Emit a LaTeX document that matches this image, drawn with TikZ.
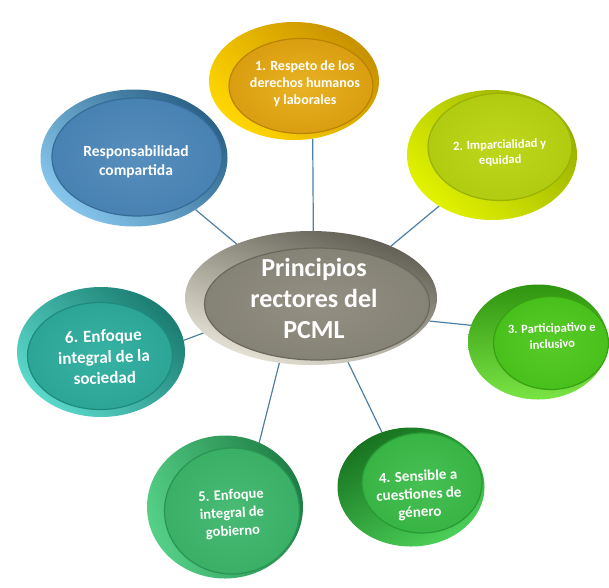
\documentclass[tikz,border=0pt]{standalone}
\usepackage{fontspec}
\setmainfont{Carlito}
\usetikzlibrary{shapes.geometric}
\pgfdeclarelayer{back}
\pgfsetlayers{back,main}

% connector colour
\definecolor{linkc}{HTML}{4F7FA6}
% button colours: rim light, rim dark, face inner, face outer, face edge
\definecolor{aRl}{HTML}{FFD600}\definecolor{aRd}{HTML}{C89200}
\definecolor{aFi}{HTML}{E8B223}\definecolor{aFo}{HTML}{DA9E10}\definecolor{aFe}{HTML}{B98300}
\definecolor{bRl}{HTML}{E2F200}\definecolor{bRd}{HTML}{97B000}
\definecolor{bFi}{HTML}{BED71C}\definecolor{bFo}{HTML}{B1CC10}\definecolor{bFe}{HTML}{98B205}
\definecolor{cRl}{HTML}{7AE444}\definecolor{cRd}{HTML}{2F9410}
\definecolor{cFi}{HTML}{58CC28}\definecolor{cFo}{HTML}{48C01C}\definecolor{cFe}{HTML}{38A012}
\definecolor{dRl}{HTML}{4CD058}\definecolor{dRd}{HTML}{17721F}
\definecolor{dFi}{HTML}{46C052}\definecolor{dFo}{HTML}{38B445}\definecolor{dFe}{HTML}{289A34}
\definecolor{eRl}{HTML}{55D088}\definecolor{eRd}{HTML}{1F7E45}
\definecolor{eFi}{HTML}{48BB74}\definecolor{eFo}{HTML}{3AAF66}\definecolor{eFe}{HTML}{2A9454}
\definecolor{fRl}{HTML}{5AD8CA}\definecolor{fRd}{HTML}{1C7D72}
\definecolor{fFi}{HTML}{38B2A4}\definecolor{fFo}{HTML}{2CA597}\definecolor{fFe}{HTML}{1E8A7E}
\definecolor{gRl}{HTML}{86C6EC}\definecolor{gRd}{HTML}{2C6288}
\definecolor{gFi}{HTML}{568FBE}\definecolor{gFo}{HTML}{4882B2}\definecolor{gFe}{HTML}{356C98}
\definecolor{hRl}{HTML}{E8E5D8}\definecolor{hRd}{HTML}{5E5B50}
\definecolor{hFi}{HTML}{939083}\definecolor{hFo}{HTML}{858276}\definecolor{hFe}{HTML}{6A675C}

\begin{document}
\begin{tikzpicture}[x=1pt,y=-1pt,
  rim/.style n args={3}{ellipse, inner sep=0pt, outer sep=0pt,
    top color=#1, bottom color=#2, shading angle=#3},
  face/.style n args={3}{ellipse, inner sep=0pt, outer sep=0pt,
    inner color=#1, outer color=#2, draw=#3, line width=1.2pt},
  lbl/.style={text=white, align=center, inner sep=0pt},
  link/.style={draw=linkc, line width=1.2pt}]
\useasboundingbox (0,0) rectangle (609,587);

% centre button
\node[rim={hRl}{hRd}{160}, minimum width=252pt, minimum height=134pt] (c) at (311,298) {};
\node[face={hFi}{hFo}{hFe}, minimum width=225pt, minimum height=112pt] (cf) at (317,304) {};
\node[lbl, font=\bfseries\fontsize{26}{31}\selectfont] (ct) at (314,298)
  {Principios\\rectores del\\PCML};

% 1
\node[rim={aRl}{aRd}{135}, minimum width=170pt, minimum height=118pt] (n1) at (294,81) {};
\node[face={aFi}{aFo}{aFe}, minimum width=144pt, minimum height=95pt] (n1f) at (301,86) {};
\node[lbl, font=\bfseries\fontsize{14}{17}\selectfont] (t1) at (305,84)
  {1. Respeto de los\\derechos humanos\\y laborales};

% 2
\node[rim={bRl}{bRd}{135}, minimum width=170pt, minimum height=130pt] (n2) at (492,155) {};
\node[face={bFi}{bFo}{bFe}, minimum width=144pt, minimum height=107pt] (n2f) at (500,147) {};
\node[lbl, rotate=2, font=\bfseries\fontsize{12.5}{15.5}\selectfont] (t2) at (500,153)
  {2. Imparcialidad y\\equidad};

% 3
\node[rim={cRl}{cRd}{180}, minimum width=140pt, minimum height=115pt] (n3) at (538,342) {};
\node[face={cFi}{cFo}{cFe}, minimum width=115pt, minimum height=93pt] (n3f) at (551,343) {};
\node[lbl, rotate=2, font=\bfseries\fontsize{12.5}{16}\selectfont] (t3) at (552,336)
  {3. Participativo e\\inclusivo};

% 4
\node[rim={dRl}{dRd}{210}, minimum width=147pt, minimum height=119pt] (n4) at (411,487) {};
\node[face={dFi}{dFo}{dFe}, minimum width=120pt, minimum height=100pt] (n4f) at (422,483) {};
\node[lbl, rotate=3, font=\bfseries\fontsize{15}{18}\selectfont] (t4) at (419,495)
  {4. Sensible a\\cuestiones de\\género};

% 5
\node[rim={eRl}{eRd}{110}, minimum width=156pt, minimum height=143pt] (n5) at (225,507) {};
\node[face={eFi}{eFo}{eFe}, minimum width=135pt, minimum height=126pt] (n5f) at (232,511) {};
\node[lbl, rotate=3, font=\bfseries\fontsize{14.5}{18}\selectfont] (t5) at (232,514)
  {5. Enfoque\\integral de\\gobierno};

% 6
\node[rim={fRl}{fRd}{135}, minimum width=168pt, minimum height=130pt] (n6) at (101,352) {};
\node[face={fFi}{fFo}{fFe}, minimum width=145pt, minimum height=107pt] (n6f) at (100,356) {};
\node[lbl, rotate=2, font=\bfseries\fontsize{17}{21}\selectfont] (t6) at (104,357)
  {6. Enfoque\\integral de la\\sociedad};

% shared responsibility
\node[rim={gRl}{gRd}{135}, minimum width=187pt, minimum height=137pt] (n7) at (134,158) {};
\node[face={gFi}{gFo}{gFe}, minimum width=170pt, minimum height=118pt] (n7f) at (137,157) {};
\node[lbl, font=\bfseries\fontsize{15.5}{18.5}\selectfont] (t7) at (136,162)
  {Responsabilidad\\compartida};

% connectors behind the buttons
\begin{pgfonlayer}{back}
  \draw[link] (c.88)  -- (n1.288);
  \draw[link] (c.33)  -- (n2.224);
  \draw[link] (c.349) -- (n3.166);
  \draw[link] (c.300) -- (n4.118);
  \draw[link] (c.244) -- (n5.62);
  \draw[link] (c.198) -- (n6.8);
  \draw[link] (c.144) -- (n7.320);
\end{pgfonlayer}
\end{tikzpicture}
\end{document}
